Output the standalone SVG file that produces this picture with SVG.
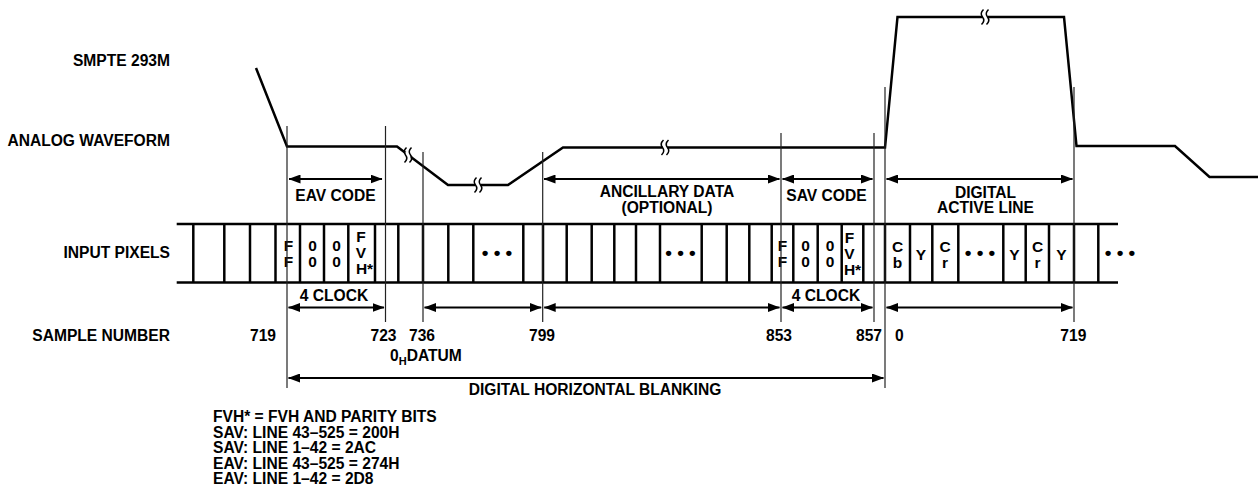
<svg xmlns="http://www.w3.org/2000/svg" width="1258" height="491" viewBox="0 0 1258 491">
<style>
.t{font-family:"Liberation Sans",Arial,sans-serif;font-weight:bold;font-size:15.6px;fill:#000}
.c{font-family:"Liberation Sans",Arial,sans-serif;font-weight:bold;font-size:15.5px;fill:#000;text-anchor:middle}
.m{text-anchor:middle}
.e{text-anchor:end}
.wave{fill:none;stroke:#000;stroke-width:2.5;stroke-linejoin:miter}
.grid{stroke:#000;stroke-width:2.5}
.ext{stroke:#222;stroke-width:1.2}
.dim{stroke:#000;stroke-width:2;marker-start:url(#ah);marker-end:url(#ah)}
.sq{fill:none;stroke:#000;stroke-width:1.5}
.dots{font-family:"Liberation Sans",Arial,sans-serif;font-weight:bold;font-size:19px;text-anchor:middle}
</style>
<defs>
<marker id="ah" viewBox="0 0 12 9" markerWidth="12" markerHeight="9" refX="11.5" refY="4.5" orient="auto-start-reverse" markerUnits="userSpaceOnUse">
<path d="M0,0 L12,4.5 L0,9 z" fill="#000"/>
</marker>
<g id="brk">
<rect x="-2.5" y="-3" width="5" height="6" fill="#fff"/>
<path d="M-1.5,-7.5 Q-5.5,-3.75 -2.5,0 T-3.5,7.5" class="sq"/>
<path d="M3.5,-7.5 Q-0.5,-3.75 2.5,0 T1.5,7.5" class="sq"/>
</g>
</defs>
<rect width="1258" height="491" fill="#fff"/>

<g id="labels">
<text class="t e" x="170" y="66">SMPTE 293M</text>
<text class="t e" x="170" y="145.5">ANALOG WAVEFORM</text>
<text class="t e" x="170" y="257.5">INPUT PIXELS</text>
<text class="t e" x="170" y="340.5">SAMPLE NUMBER</text>
</g>

<g id="waveform">
<polyline class="wave" points="256,68 287,146.5 397,146.5 448,185 508,185 563,147.5 885,147.5 897.5,17 1064,17 1076.5,146 1175,146 1209.5,177 1258,177"/>
<use href="#brk" x="408" y="155"/>
<use href="#brk" x="478" y="185"/>
<use href="#brk" x="665" y="147.5"/>
<use href="#brk" x="985" y="17"/>
</g>

<g id="input-pixels">
<line class="grid" x1="176.7" y1="224" x2="1118" y2="224"/>
<line class="grid" x1="176.7" y1="282.5" x2="1118" y2="282.5"/>
<g class="grid">
<line x1="193.3" y1="224" x2="193.3" y2="282.5"/>
<line x1="224.3" y1="224" x2="224.3" y2="282.5"/>
<line x1="250" y1="224" x2="250" y2="282.5"/>
<line x1="275.5" y1="224" x2="275.5" y2="282.5"/>
<line x1="300" y1="224" x2="300" y2="282.5"/>
<line x1="324" y1="224" x2="324" y2="282.5"/>
<line x1="348.3" y1="224" x2="348.3" y2="282.5"/>
<line x1="375" y1="224" x2="375" y2="282.5"/>
<line x1="398.3" y1="224" x2="398.3" y2="282.5"/>
<line x1="423" y1="224" x2="423" y2="282.5"/>
<line x1="448.3" y1="224" x2="448.3" y2="282.5"/>
<line x1="473.3" y1="224" x2="473.3" y2="282.5"/>
<line x1="523.3" y1="224" x2="523.3" y2="282.5"/>
<line x1="543" y1="224" x2="543" y2="282.5"/>
<line x1="566.7" y1="224" x2="566.7" y2="282.5"/>
<line x1="591.7" y1="224" x2="591.7" y2="282.5"/>
<line x1="614.3" y1="224" x2="614.3" y2="282.5"/>
<line x1="636" y1="224" x2="636" y2="282.5"/>
<line x1="660" y1="224" x2="660" y2="282.5"/>
<line x1="701.7" y1="224" x2="701.7" y2="282.5"/>
<line x1="726.7" y1="224" x2="726.7" y2="282.5"/>
<line x1="749.3" y1="224" x2="749.3" y2="282.5"/>
<line x1="771.7" y1="224" x2="771.7" y2="282.5"/>
<line x1="793.3" y1="224" x2="793.3" y2="282.5"/>
<line x1="817.7" y1="224" x2="817.7" y2="282.5"/>
<line x1="841.7" y1="224" x2="841.7" y2="282.5"/>
<line x1="863.3" y1="224" x2="863.3" y2="282.5"/>
<line x1="885" y1="224" x2="885" y2="282.5"/>
<line x1="910" y1="224" x2="910" y2="282.5"/>
<line x1="932.3" y1="224" x2="932.3" y2="282.5"/>
<line x1="958.3" y1="224" x2="958.3" y2="282.5"/>
<line x1="1003.3" y1="224" x2="1003.3" y2="282.5"/>
<line x1="1025.7" y1="224" x2="1025.7" y2="282.5"/>
<line x1="1049" y1="224" x2="1049" y2="282.5"/>
<line x1="1074" y1="224" x2="1074" y2="282.5"/>
<line x1="1098.3" y1="224" x2="1098.3" y2="282.5"/>
</g>
<g id="eav-cells">
<text class="c" x="288.5" y="251">F</text><text class="c" x="288.5" y="267">F</text>
<text class="c" x="312.5" y="251">0</text><text class="c" x="312.5" y="267">0</text>
<text class="c" x="336.5" y="251">0</text><text class="c" x="336.5" y="267">0</text>
<text class="c" x="361" y="242">F</text><text class="c" x="361" y="258">V</text><text class="c" x="364.5" y="274">H*</text>
</g>
<g id="sav-cells">
<text class="c" x="782.5" y="251">F</text><text class="c" x="782.5" y="267">F</text>
<text class="c" x="805.5" y="251">0</text><text class="c" x="805.5" y="267">0</text>
<text class="c" x="830" y="251">0</text><text class="c" x="830" y="267">0</text>
<text class="c" x="849.5" y="243">F</text><text class="c" x="849.5" y="258.5">V</text><text class="c" x="852.5" y="274.5">H*</text>
</g>
<g id="active-cells">
<text class="c" x="897.5" y="252">C</text><text class="c" x="897.5" y="268">b</text>
<text class="c" x="921" y="260">Y</text>
<text class="c" x="945" y="252">C</text><text class="c" x="945" y="268">r</text>
<text class="c" x="1014.5" y="260">Y</text>
<text class="c" x="1037.5" y="252">C</text><text class="c" x="1037.5" y="268">r</text>
<text class="c" x="1061.5" y="260">Y</text>
</g>
<g id="ellipses">
<text class="dots" x="497" y="258.5">• • •</text>
<text class="dots" x="680.5" y="258.5">• • •</text>
<text class="dots" x="980" y="258.5">• • •</text>
<text class="dots" x="1120" y="258.5">• • •</text>
</g>
</g>

<g id="connectors">
<g id="extension-lines" class="ext">
<line x1="287" y1="126" x2="287" y2="388"/>
<line x1="385.5" y1="126" x2="385.5" y2="322"/>
<line x1="423" y1="152" x2="423" y2="322"/>
<line x1="542.7" y1="152" x2="542.7" y2="322"/>
<line x1="781" y1="133" x2="781" y2="322"/>
<line x1="874" y1="133" x2="874" y2="322"/>
<line x1="885" y1="87" x2="885" y2="388"/>
<line x1="1074" y1="87" x2="1074" y2="322"/>
</g>
<line class="dim" x1="289" y1="179" x2="382" y2="179"/>
<line class="dim" x1="544" y1="179" x2="779.5" y2="179"/>
<line class="dim" x1="782.5" y1="179" x2="872.5" y2="179"/>
<line class="dim" x1="886.5" y1="179" x2="1072.5" y2="179"/>
<line class="dim" x1="288.5" y1="307.5" x2="384" y2="307.5"/>
<line class="dim" x1="424.5" y1="307.5" x2="541.2" y2="307.5"/>
<line class="dim" x1="544.2" y1="307.5" x2="779.5" y2="307.5"/>
<line class="dim" x1="782.5" y1="307.5" x2="872.5" y2="307.5"/>
<line class="dim" x1="886.5" y1="307.5" x2="1072.5" y2="307.5"/>
<line class="dim" x1="288.5" y1="378" x2="883.5" y2="378"/>
</g>

<g id="dimension-labels">
<text class="t m" x="335.5" y="201">EAV CODE</text>
<text class="t m" x="667" y="197">ANCILLARY DATA</text>
<text class="t m" x="667" y="213">(OPTIONAL)</text>
<text class="t m" x="826.5" y="200.5">SAV CODE</text>
<text class="t m" x="985.5" y="197.5">DIGITAL</text>
<text class="t m" x="985.5" y="213">ACTIVE LINE</text>
<text class="t m" x="334" y="301">4 CLOCK</text>
<text class="t m" x="826" y="301">4 CLOCK</text>
<text class="t m" x="595" y="395">DIGITAL HORIZONTAL BLANKING</text>
</g>

<g id="sample-numbers">
<text class="t e" x="276" y="340.5">719</text>
<text class="t m" x="383.5" y="340.5">723</text>
<text class="t m" x="422" y="340.5">736</text>
<text class="t m" x="542" y="340.5">799</text>
<text class="t m" x="779" y="340.5">853</text>
<text class="t e" x="882" y="340.5">857</text>
<text class="t" x="895" y="340.5">0</text>
<text class="t m" x="1073.3" y="340.5">719</text>
<text class="t" x="390" y="361">0<tspan dy="4" font-size="11">H</tspan><tspan dy="-4">DATUM</tspan></text>
</g>

<g id="notes">
<text class="t" x="213" y="422">FVH* = FVH AND PARITY BITS</text>
<text class="t" x="213" y="437.5">SAV: LINE 43–525 = 200H</text>
<text class="t" x="213" y="453">SAV: LINE 1–42 = 2AC</text>
<text class="t" x="213" y="468.5">EAV: LINE 43–525 = 274H</text>
<text class="t" x="213" y="484">EAV: LINE 1–42 = 2D8</text>
</g>
</svg>
